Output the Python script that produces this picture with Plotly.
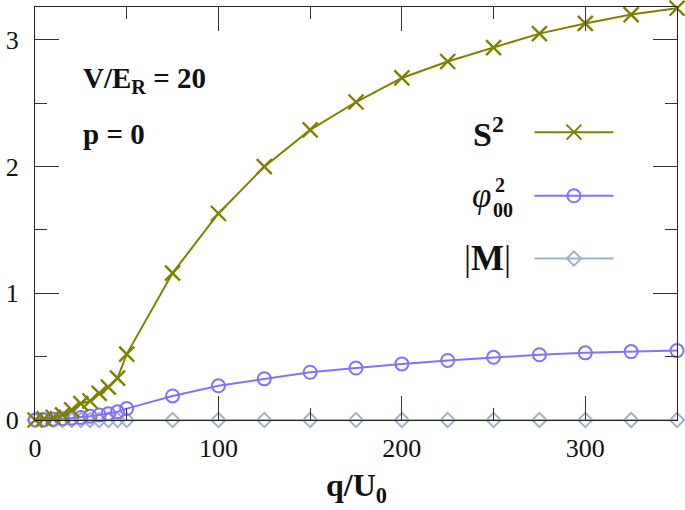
import plotly.graph_objects as go

q = [0, 5, 10, 15, 20, 25, 30, 35, 40, 45, 50, 75, 100, 125, 150, 175, 200, 225, 250, 275, 300, 325, 350]
S2 = [0.0, 0.01, 0.02, 0.04, 0.08, 0.13, 0.15, 0.21, 0.26, 0.33, 0.52, 1.16, 1.63, 2.00, 2.29, 2.51, 2.70,
      2.83, 2.94, 3.05, 3.13, 3.20, 3.25]
phi2 = [0.0, 0.002, 0.005, 0.01, 0.015, 0.02, 0.03, 0.04, 0.05, 0.065, 0.09, 0.19, 0.27, 0.325, 0.377, 0.41,
        0.443, 0.47, 0.495, 0.515, 0.53, 0.54, 0.548]
M = [0.0] * len(q)

x_ticks = [0, 100, 200, 300]
y_ticks = [0, 1, 2, 3]

C_S = "#808000"
C_P = "#8470ff"
C_M = "#9eb0ca"
FONT = "Liberation Serif"

fig = go.Figure()
fig.add_trace(go.Scatter(x=q, y=M, mode="lines+markers", name="|M|", cliponaxis=False,
                         line=dict(color=C_M, width=2),
                         marker=dict(symbol="diamond-open", size=11, line=dict(width=2, color=C_M))))
fig.add_trace(go.Scatter(x=q, y=phi2, mode="lines+markers", name="phi", cliponaxis=False,
                         line=dict(color=C_P, width=2),
                         marker=dict(symbol="circle-open", size=13, line=dict(width=2, color=C_P))))
fig.add_trace(go.Scatter(x=q, y=S2, mode="lines+markers", name="S2", cliponaxis=False,
                         line=dict(color=C_S, width=2),
                         marker=dict(symbol="x-thin-open", size=15, line=dict(width=2.4, color=C_S))))

# legend samples on a hidden overlay axis (0..1 over the plot area)
leg_x = [0.778, 0.901]
leg_rows = [(0.697, C_S, "x-thin-open", 15), (0.543, C_P, "circle-open", 13), (0.391, C_M, "diamond-open", 11)]
for yy, c, sym, sz in leg_rows:
    fig.add_trace(go.Scatter(x=leg_x, y=[yy, yy], mode="lines", line=dict(color=c, width=2),
                             xaxis="x2", yaxis="y2", showlegend=False, hoverinfo="skip"))
    fig.add_trace(go.Scatter(x=[sum(leg_x) / 2], y=[yy], mode="markers", cliponaxis=False,
                             marker=dict(symbol=sym, size=sz, color=c, line=dict(width=2, color=c)),
                             xaxis="x2", yaxis="y2", showlegend=False, hoverinfo="skip"))

axis_common = dict(showgrid=False, zeroline=False, showline=True, linecolor="#222", linewidth=1.3,
                   mirror="ticks", ticks="inside", ticklen=24, tickwidth=1.3, tickcolor="#333",
                   tickfont=dict(family=FONT, size=26, color="#111"))

fig.update_layout(
    width=685, height=510,
    margin=dict(l=32, r=8, t=6, b=90),
    paper_bgcolor="white", plot_bgcolor="white",
    showlegend=False,
    xaxis=dict(range=[0, 350], tickvals=x_ticks, ticklabelstandoff=5,
               minor=dict(ticks="inside", ticklen=12, dtick=50, tick0=0, tickcolor="#333", tickwidth=1.3),
               **axis_common),
    yaxis=dict(range=[0, 3.26], tickvals=y_ticks, ticklabelstandoff=10,
               minor=dict(ticks="inside", ticklen=12, dtick=0.5, tick0=0, tickcolor="#333", tickwidth=1.3),
               **axis_common),
    xaxis2=dict(range=[0, 1], overlaying="x", visible=False, fixedrange=True),
    yaxis2=dict(range=[0, 1], overlaying="y", visible=False, fixedrange=True),
)

ann = [
    dict(x=0.5, y=-0.163, text="<b>q/U<sub>0</sub></b>", xanchor="center", size=32),
    dict(x=0.071, y=0.823, text="<b>V/E<sub>R</sub>&nbsp;=&nbsp;20</b>", xanchor="left", size=29),
    dict(x=0.071, y=0.693, text="<b>p&nbsp;=&nbsp;0</b>", xanchor="left", size=29),
    dict(x=0.733, y=0.697, text="<b>S</b><sup><b>2</b></sup>", xanchor="right", size=34),
    dict(x=0.713, y=0.543, text="<i>φ</i>", xanchor="right", size=35),
    dict(x=0.713, y=0.568, text="<b>2</b>", xanchor="left", size=20),
    dict(x=0.711, y=0.508, text="<b>00</b>", xanchor="left", size=20),
    dict(x=0.745, y=0.391, text="|<b>M</b>|", xanchor="right", size=35),
]
for a in ann:
    fig.add_annotation(x=a["x"], y=a["y"], xref="paper", yref="paper", text=a["text"], showarrow=False,
                       xanchor=a["xanchor"], yanchor="middle",
                       font=dict(family=FONT, size=a["size"], color="#111"))

fig.write_html("out.html", config={"displayModeBar": False},
               post_script="document.body.style.margin='0';")
